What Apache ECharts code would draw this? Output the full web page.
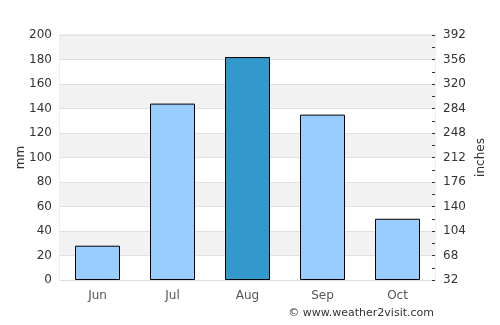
<!DOCTYPE html>
<html><head><meta charset="utf-8">
<script src="https://cdn.jsdelivr.net/npm/echarts@6/dist/echarts.min.js"></script>
<style>html,body{margin:0;padding:0;background:#fff}#c{width:500px;height:325px}</style>
</head><body><div id="c"></div>
<script>
const categories = ['Jun','Jul','Aug','Sep','Oct'];
const rainfall = [28, 144, 182, 135, 50];
const highlightIndex = 2;
const leftTicks = [0,20,40,60,80,100,120,140,160,180,200];
const rightTicks = [32,68,104,140,176,212,248,284,320,356,392];

const font = 'DejaVu Sans';
const chart = echarts.init(document.getElementById('c'));
chart.setOption({
  animation:false,
  textStyle:{fontFamily:font},
  grid:{left:60,right:65,top:35,bottom:45,show:true,borderColor:'#ddd',borderWidth:1,outerBoundsMode:'none',containLabel:false},
  graphic:[{type:'text',right:66,bottom:6,style:{text:'© www.weather2visit.com',fontFamily:font,fontSize:11,fill:'#333'}}],
  xAxis:{type:'category',data:categories,
    axisLine:{lineStyle:{color:'#ddd'}},axisTick:{show:false},
    axisLabel:{color:'#555',fontSize:12,margin:10}},
  yAxis:[{type:'value',min:leftTicks[0],max:leftTicks[leftTicks.length-1],interval:20,
    name:'mm',nameLocation:'middle',nameGap:33,nameRotate:90,nameMoveOverlap:false,nameTextStyle:{color:'#333',fontSize:12},
    axisLine:{show:false},axisTick:{show:false},
    axisLabel:{color:'#333',fontSize:12,margin:8},
    splitLine:{lineStyle:{color:'#e0e0e0'}},
    splitArea:{show:true,areaStyle:{color:['#ffffff','#f2f2f2']}}},
   {type:'value',min:rightTicks[0],max:rightTicks[rightTicks.length-1],interval:36,position:'right',
    name:'inches',nameLocation:'middle',nameGap:40,nameRotate:90,nameMoveOverlap:false,nameTextStyle:{color:'#333',fontSize:12},
    axisLine:{show:false},axisTick:{show:true,length:3,inside:true,lineStyle:{color:'#333'}},
    minorTick:{show:true,splitNumber:2,length:3,lineStyle:{color:'#333'}},
    axisLabel:{color:'#333',fontSize:12,margin:8},
    splitLine:{show:false}}],
  series:[{type:'bar',yAxisIndex:0,barWidth:'60%',
    data:rainfall.map((v,i)=>({value:v,itemStyle:{color:i===highlightIndex?'#3399cc':'#99ccff'}})),
    itemStyle:{borderColor:'#000',borderWidth:1}}]
});
</script></body></html>
